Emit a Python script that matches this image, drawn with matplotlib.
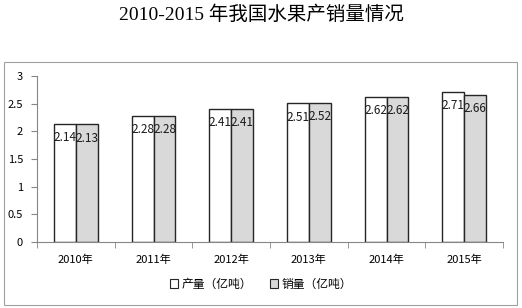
import matplotlib
matplotlib.use('Agg')
import matplotlib.pyplot as plt
from matplotlib.patches import Rectangle, Patch
import numpy as np

plt.rcParams['font.family'] = ['Noto Sans CJK SC', 'DejaVu Sans']

# data
years = ['2010年', '2011年', '2012年', '2013年', '2014年', '2015年']
output = [2.14, 2.28, 2.41, 2.51, 2.62, 2.71]
sales = [2.13, 2.28, 2.41, 2.52, 2.62, 2.66]
series_names = ['产量（亿吨）', '销量（亿吨）']

fig = plt.figure(figsize=(5.22, 3.08), dpi=100)
ax = fig.add_axes([0.0709, 0.2143, 0.8927, 0.5389])

# outer chart frame
fig.patches.append(Rectangle((4 / 522, 3 / 308), 513 / 522, 243 / 308,
                             transform=fig.transFigure, fill=False,
                             edgecolor='#a0a0a0', linewidth=0.8))

x = np.arange(len(years))
w = 0.283
b1 = ax.bar(x - w / 2, output, w, color='white', edgecolor='#262626', linewidth=1)
b2 = ax.bar(x + w / 2, sales, w, color='#d9d9d9', edgecolor='#262626', linewidth=1)

for bars, vals in ((b1, output), (b2, sales)):
  for r, v in zip(bars, vals):
    ax.annotate('%.2f' % v, (r.get_x() + r.get_width() / 2, v),
                xytext=(0, -10), textcoords='offset points',
                ha='center', va='center', fontsize=8.5, color='#1a1a1a')

ax.set_xlim(-0.5, len(years) - 0.5)
ax.set_ylim(0, 3)
ax.set_yticks([0, 0.5, 1, 1.5, 2, 2.5, 3])
ax.set_yticklabels(['0', '0.5', '1', '1.5', '2', '2.5', '3'], fontsize=8)
ax.set_xticks(x)
ax.set_xticklabels(years, fontsize=8)
ax.set_xticks(np.arange(len(years) + 1) - 0.5, minor=True)
ax.tick_params(axis='x', which='major', length=0, pad=9)
ax.tick_params(axis='x', which='minor', length=4, color='#868686', direction='out')
ax.tick_params(axis='y', length=4, color='#868686', direction='out', pad=6)

for s in ('top', 'right'):
  ax.spines[s].set_visible(False)
for s in ('left', 'bottom'):
  ax.spines[s].set_color('#868686')
  ax.spines[s].set_linewidth(0.8)

handles = [Patch(facecolor='white', edgecolor='#262626', linewidth=0.8),
           Patch(facecolor='#d9d9d9', edgecolor='#262626', linewidth=0.8)]
fig.legend(handles, series_names, loc='center', bbox_to_anchor=(0.5, 1 - 284 / 308),
           ncol=2, frameon=False, fontsize=8.5, handlelength=0.7, handleheight=0.7,
           handletextpad=0.3, columnspacing=1.5)

fig.text(0.5, 1 - 15 / 308, '2010-2015 年我国水果产销量情况', ha='center', va='center',
         fontsize=14, family=['Liberation Serif', 'Noto Sans CJK SC'])

fig.savefig('out.png', dpi=100)
